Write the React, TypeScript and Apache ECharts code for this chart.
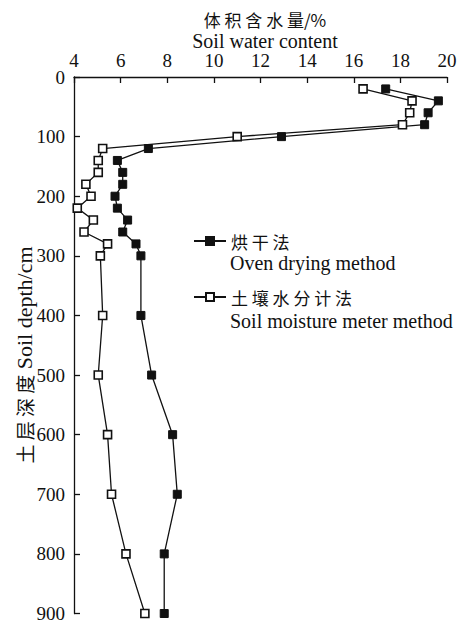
import React, { useEffect, useRef } from "react";
import * as echarts from "echarts";

const depths = [20, 40, 60, 80, 100, 120, 140, 160, 180, 200, 220, 240, 260, 280, 300, 400, 500, 600, 700, 800, 900];
const ovenDrying = [17.37, 19.63, 19.19, 19.04, 12.9, 7.19, 5.86, 6.09, 6.09, 5.76, 5.86, 6.3, 6.09, 6.66, 6.87, 6.87, 7.33, 8.23, 8.43, 7.87, 7.87];
const moistureMeter = [16.4, 18.5, 18.4, 18.09, 11.0, 5.23, 5.04, 5.04, 4.51, 4.73, 4.14, 4.83, 4.43, 5.44, 5.13, 5.23, 5.04, 5.44, 5.61, 6.23, 7.04];

const seriesNamesCn = ["烘 干 法", "土 壤 水 分 计 法"];
const seriesNamesEn = ["Oven drying method", "Soil moisture meter method"];
const xTitleCn = "体 积 含 水 量/%";
const xTitleEn = "Soil water content";
const yTitleCn = "土 层 深 度";
const yTitleEn = "Soil depth/cm";

const SERIF = "Liberation Serif";
const CJK = "Noto Sans CJK SC";
const INK = "#111";

export default function App() {
  const ref = useRef<HTMLDivElement>(null);
  useEffect(() => {
    if (!ref.current) return;
    const chart = echarts.init(ref.current, undefined, { renderer: "svg" });
    const toPairs = (vals: number[]) => vals.map((v, i) => [v, depths[i]]);
    chart.setOption({
      animation: false,
      backgroundColor: "#fff",
      grid: { left: 74, right: 13, top: 77, bottom: 9, containLabel: false },
      xAxis: {
        type: "value",
        position: "top",
        min: 4,
        max: 20,
        interval: 2,
        name: `{cn|${xTitleCn}}\n{en|${xTitleEn}}`,
        nameLocation: "middle",
        nameGap: 25,
        nameMoveOverlap: false,
        nameTextStyle: {
          padding: [0, 0, 0, 9],
          rich: {
            cn: { fontFamily: CJK, fontSize: 17, lineHeight: 22, color: INK },
            en: { fontFamily: SERIF, fontSize: 20, lineHeight: 22, color: INK },
          },
        },
        axisLine: { show: true, lineStyle: { color: INK, width: 1.3 } },
        axisTick: { show: true, inside: true, length: 6, lineStyle: { color: INK, width: 1.3 } },
        axisLabel: { fontFamily: SERIF, fontSize: 19, color: INK, margin: 7 },
        splitLine: { show: false },
      },
      yAxis: {
        type: "value",
        inverse: true,
        min: 0,
        max: 900,
        interval: 100,
        axisLine: { show: true, lineStyle: { color: INK, width: 1.3 } },
        axisTick: { show: true, inside: true, length: 6, lineStyle: { color: INK, width: 1.3 } },
        axisLabel: { fontFamily: SERIF, fontSize: 19, color: INK, margin: 9 },
        splitLine: { show: false },
      },
      legend: {
        orient: "vertical",
        left: 193,
        top: 231,
        padding: 0,
        itemGap: 36,
        itemWidth: 32,
        itemHeight: 10,
        selectedMode: false,
        data: [seriesNamesEn[0], seriesNamesEn[1]],
        formatter: (name: string) => seriesNamesCn[seriesNamesEn.indexOf(name)],
        textStyle: { fontFamily: CJK, fontSize: 17, lineHeight: 20, color: INK },
      },
      graphic: [
        {
          type: "text",
          x: 24,
          y: 355,
          rotation: Math.PI / 2,
          style: {
            text: `{cn|${yTitleCn}}{sp| }{en|${yTitleEn}}`,
            align: "center",
            verticalAlign: "middle",
            fill: INK,
            rich: {
              cn: { fontFamily: CJK, fontSize: 19, lineHeight: 24, fill: INK },
              sp: { fontFamily: SERIF, fontSize: 22, lineHeight: 24, fill: INK },
              en: { fontFamily: SERIF, fontSize: 22, lineHeight: 24, fill: INK },
            },
          },
        },
        {
          type: "text",
          left: 230,
          top: 253,
          style: { text: seriesNamesEn[0], font: `20px ${SERIF}`, fill: INK },
        },
        {
          type: "text",
          left: 230,
          top: 311,
          style: { text: seriesNamesEn[1], font: `20px ${SERIF}`, fill: INK },
        },
      ],
      series: [
        {
          name: seriesNamesEn[0],
          type: "line",
          data: toPairs(ovenDrying),
          symbol: "rect",
          symbolSize: 8,
          lineStyle: { color: INK, width: 1.3 },
          itemStyle: { color: INK, borderColor: INK, borderWidth: 1 },
        },
        {
          name: seriesNamesEn[1],
          type: "line",
          data: toPairs(moistureMeter),
          symbol: "rect",
          symbolSize: 8,
          lineStyle: { color: INK, width: 1.3 },
          itemStyle: { color: "#fff", borderColor: INK, borderWidth: 1.6 },
        },
      ],
    });
    return () => chart.dispose();
  }, []);
  return <div ref={ref} style={{ width: 460, height: 623, position: "fixed", left: 0, top: 0 }} />;
}
